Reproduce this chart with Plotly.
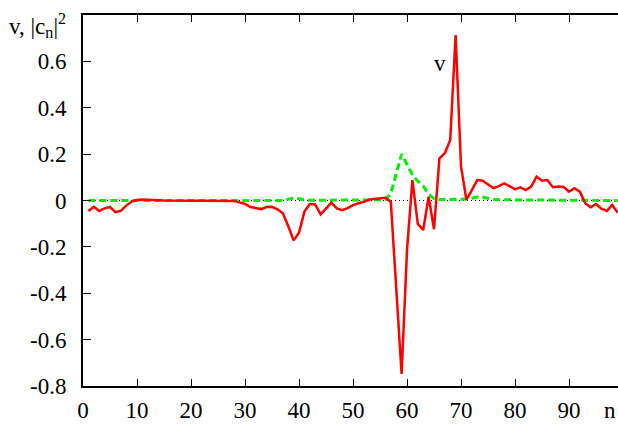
import plotly.graph_objects as go

n = list(range(1, 100))
v = [-0.045, -0.027, -0.045, -0.034, -0.028, -0.05, -0.045, -0.022, -0.005, 0.002,
     0.004, 0.004, 0.003, 0.001, 0.0, 0.0, 0.0, 0.0, 0.0, 0.0,
     0.0, 0.0, 0.0, 0.0, 0.0, 0.0, 0.0, -0.002, -0.008, -0.015,
     -0.028, -0.033, -0.037, -0.028, -0.027, -0.038, -0.055, -0.11, -0.172, -0.139,
     -0.048, -0.015, -0.017, -0.06, -0.035, -0.009, -0.034, -0.042, -0.033, -0.02,
     -0.012, -0.006, 0.004, 0.006, 0.008, 0.012, -0.005, -0.36, -0.748, -0.213,
     0.088, -0.101, -0.127, 0.016, -0.124, 0.182, 0.204, 0.261, 0.714, 0.146,
     0.003, 0.045, 0.088, 0.085, 0.068, 0.053, 0.062, 0.074, 0.062, 0.048,
     0.057, 0.045, 0.06, 0.103, 0.085, 0.088, 0.057, 0.06, 0.058, 0.038,
     0.053, 0.038, -0.012, -0.029, -0.015, -0.035, -0.045, -0.019, -0.052]
c2 = [0.0] * 37 + [0.006, 0.01, 0.008, 0.002] + [0.001] * 14 + \
     [0.003, 0.03, 0.11, 0.2, 0.155, 0.11, 0.083, 0.063, 0.028, 0.008,
      0.004, 0.004, 0.004, 0.004, 0.005, 0.006, 0.01, 0.015, 0.014, 0.008,
      0.005] + [0.003] * 14 + [0.0] * 9
c2 = c2[:len(n)]

xticks = [0, 10, 20, 30, 40, 50, 60, 70, 80, 90]
yticks = [-0.8, -0.6, -0.4, -0.2, 0, 0.2, 0.4, 0.6]
ytext = ["-0.8", "-0.6", "-0.4", "-0.2", "0", "0.2", "0.4", "0.6"]

FONT = "Liberation Serif"
FS = 23

fig = go.Figure()
fig.add_shape(type="line", x0=0, x1=100, y0=0, y1=0, xref="x", yref="y",
              line=dict(color="black", width=1, dash="1px,3px"), layer="below")
fig.add_trace(go.Scatter(x=n, y=c2, mode="lines",
                         line=dict(color="#00ee00", width=3, dash="7px,4px")))
fig.add_trace(go.Scatter(x=n, y=v, mode="lines",
                         line=dict(color="#ff0000", width=2.5)))

fig.update_layout(
    width=618, height=424,
    margin=dict(l=83, r=0, t=15, b=38),
    plot_bgcolor="white", paper_bgcolor="white",
    showlegend=False,
    font=dict(family=FONT, size=FS, color="black"),
    xaxis=dict(range=[0, 99.07], tickvals=xticks, ticks="inside", ticklen=7,
               tickcolor="black", tickwidth=1, showgrid=False, zeroline=False,
               showline=True, linecolor="black", linewidth=2, mirror="ticks",
               automargin=False, ticklabelstandoff=2,
               tickfont=dict(family=FONT, size=FS)),
    yaxis=dict(range=[-0.8, 0.8], tickvals=yticks, ticktext=ytext, ticks="inside",
               ticklen=8, tickcolor="black", tickwidth=1, showgrid=False,
               zeroline=False, showline=True, linecolor="black", linewidth=2,
               automargin=False, ticklabelstandoff=10,
               tickfont=dict(family=FONT, size=FS)),
)
fig.add_annotation(x=66.2, y=0.59, xref="x", yref="y", text="v", showarrow=False,
                   font=dict(family=FONT, size=FS))
fig.add_annotation(x=-0.142, y=0.973, xref="paper", yref="paper",
                   text="v, |c<sub>n</sub>|<sup>2</sup>", showarrow=False,
                   xanchor="left", yanchor="middle", font=dict(family=FONT, size=FS))
fig.add_annotation(x=0.985, y=-0.066, xref="paper", yref="paper", text="n",
                   showarrow=False, xanchor="center", yanchor="middle",
                   font=dict(family=FONT, size=FS))

fig.write_html("out.html", config={"displayModeBar": False},
               post_script="document.body.style.margin='0';document.body.style.padding='0';")
